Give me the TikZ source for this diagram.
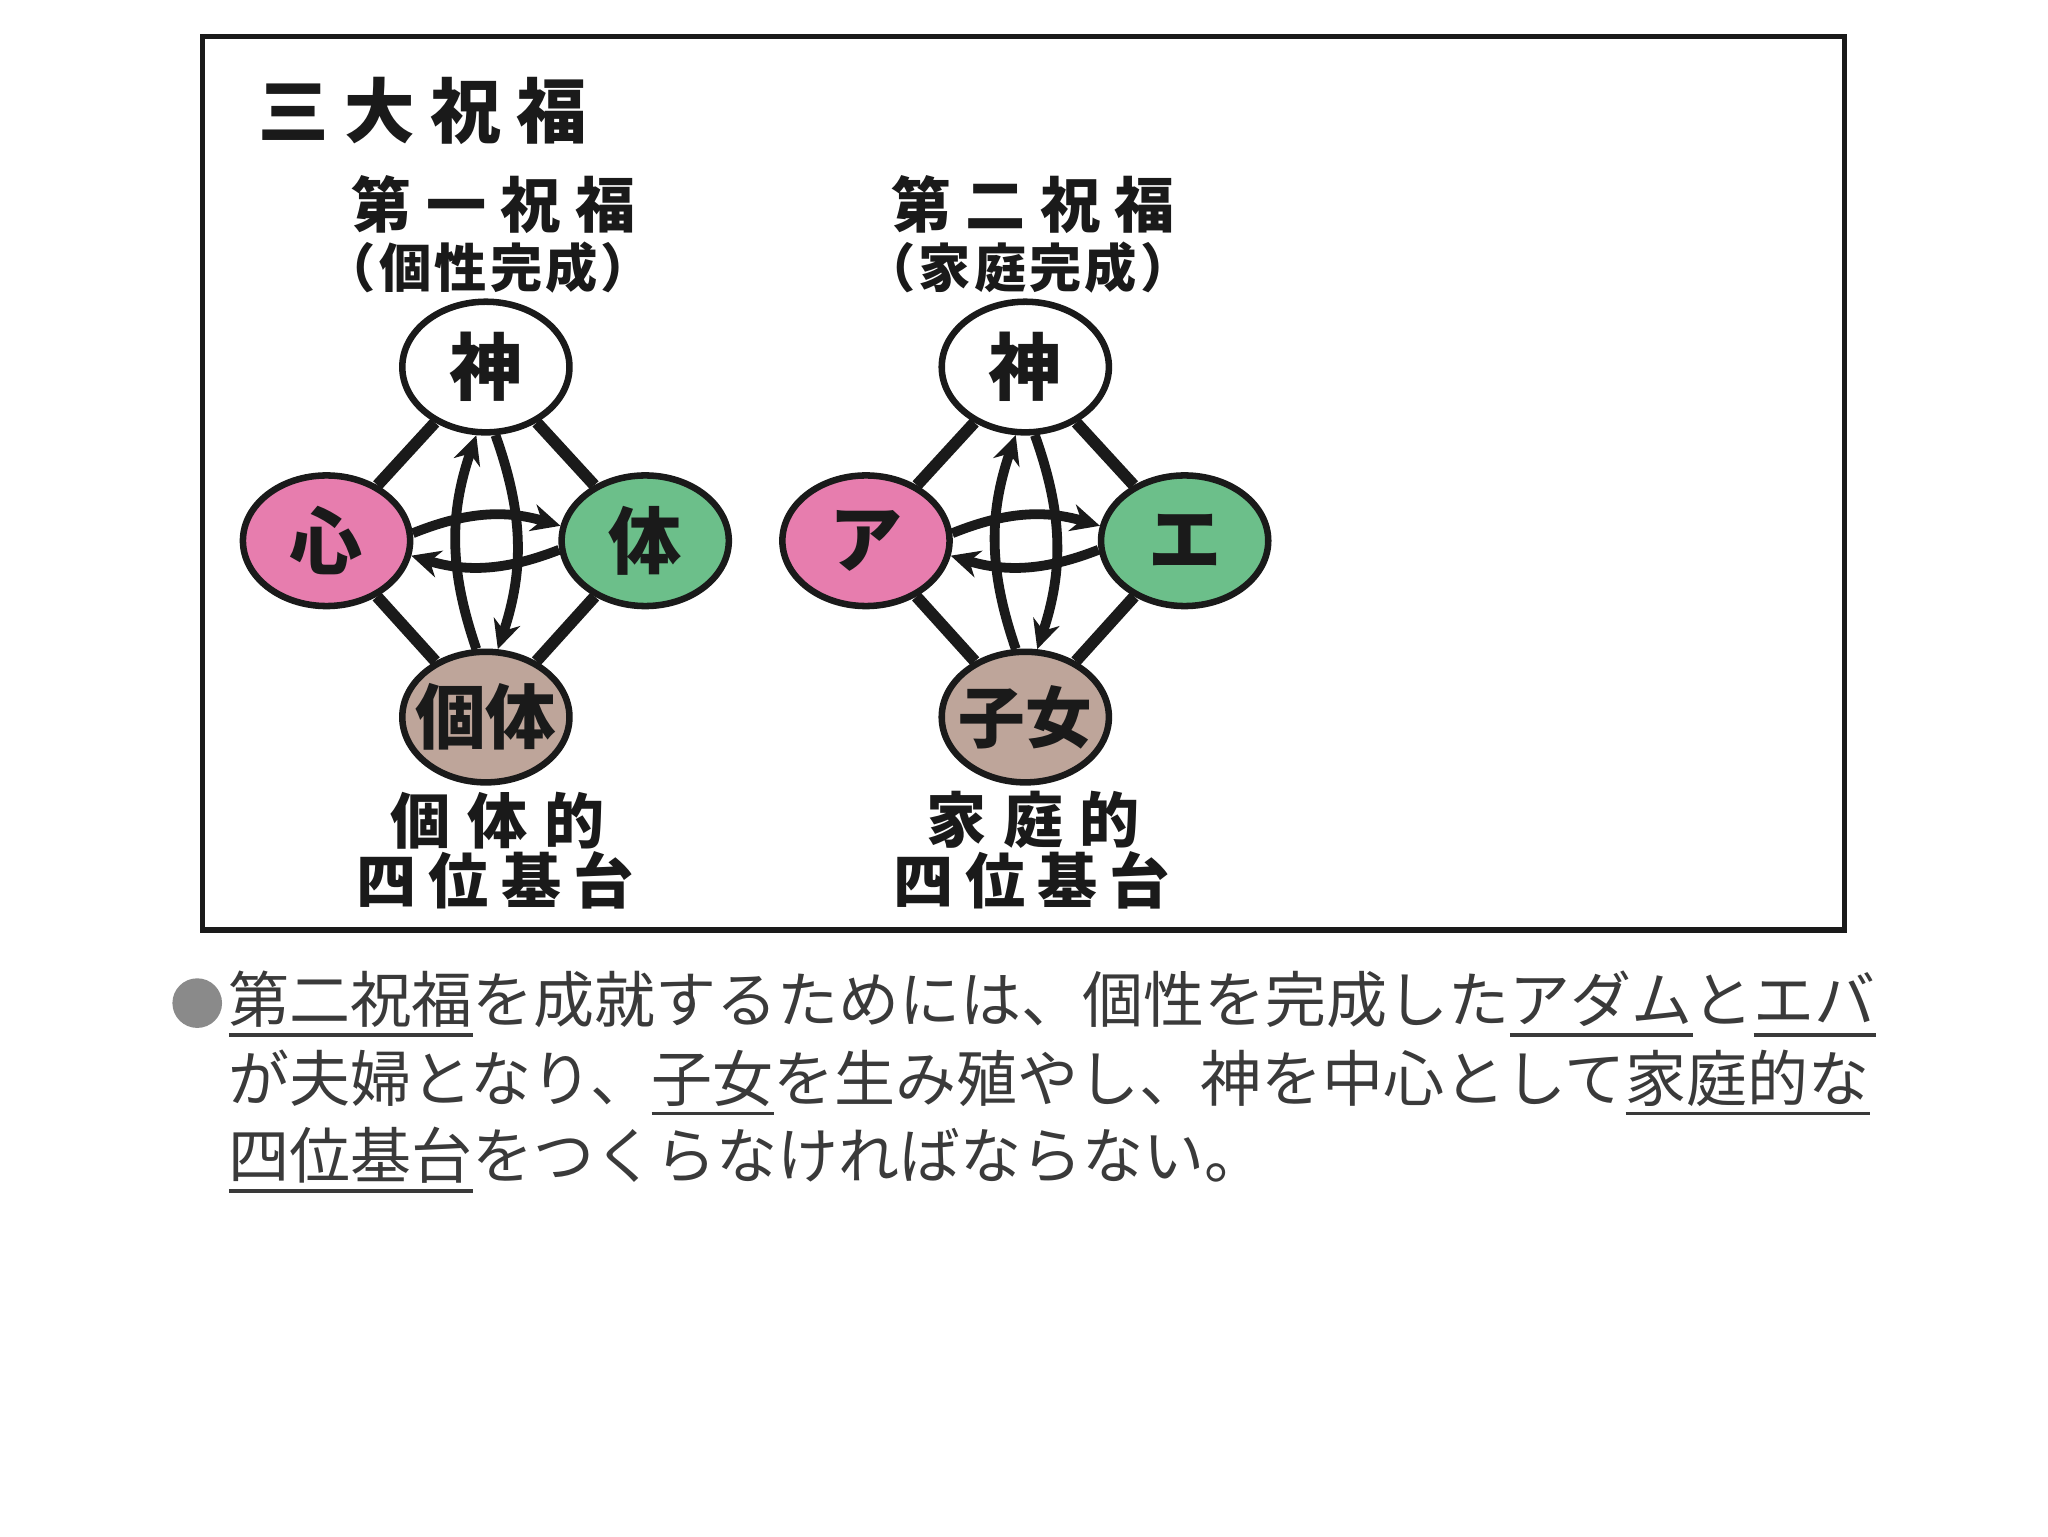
\documentclass[tikz,border=0pt]{standalone}
\usepackage{fontspec}
\usetikzlibrary{shapes.geometric,arrows.meta,backgrounds}
\newfontfamily\jp{Noto Sans CJK JP}
\definecolor{pinkc}{HTML}{E77DAE}
\definecolor{greenc}{HTML}{6CBF8A}
\definecolor{brownc}{HTML}{BEA59A}
\definecolor{inkc}{HTML}{1A1A1A}
\definecolor{bodyc}{HTML}{3A3A3A}
\definecolor{bulletc}{HTML}{8A8A8A}
\newcommand\uln[1]{\setbox0\hbox{#1}\rlap{\color{bodyc}\rule[-11pt]{\wd0}{3pt}}\box0}
\newcommand\jb[2]{\jp\bfseries\fontsize{#1}{#1}\selectfont\addfontfeature{LetterSpace=#2}}
\newcommand\zw[1]{\makebox[0pt]{#1}}
\tikzset{
  stage/.style={ellipse, draw=inkc, line width=5pt, minimum width=128pt,
    minimum height=100pt, inner sep=0pt, text=inkc,
    font=\jp\bfseries\fontsize{56}{56}\selectfont},
  link/.style={draw=inkc, line width=9pt},
  flow/.style={draw=inkc, line width=7.5pt, -{Stealth[length=22pt,width=21pt]}, bend left=19},
  head/.style={inner sep=0pt, text=inkc},
  body/.style={inner sep=0pt, anchor=base west, text=bodyc,
    font=\jp\fontsize{46.7}{50}\selectfont}
}
\begin{document}
\begin{tikzpicture}[x=1pt,y=1pt]
\useasboundingbox (0,0) rectangle (1568,-1176);
\draw[inkc, line width=4pt] (155,-28) rectangle (1412,-712);
\node[head, anchor=west, font=\jb{54}{22}] (title) at (198,-85) {三大祝福};
% first blessing
\node[head, font=\jb{46}{24}] (h1) at (378,-157) {第一祝福};
\node[head, font=\jb{40}{6}] (s1) at (374,-205) {（個性完成）};
\node[stage, fill=white] (g1) at (372,-281) {\zw{神}};
\node[stage, fill=pinkc] (m1) at (250,-414) {\zw{心}};
\node[stage, fill=greenc] (b1) at (494,-414) {\zw{体}};
\node[stage, fill=brownc, font=\jb{54}{0}] (c1) at (372,-549) {\zw{個体}};
\node[head, font=\jb{46}{28}] (f1) at (381,-628) {個体的};
\node[head, font=\jb{46}{20}] (q1) at (379,-674) {四位基台};
% second blessing
\node[head, font=\jb{46}{24}] (h2) at (791,-157) {第二祝福};
\node[head, font=\jb{40}{6}] (s2) at (787,-205) {（家庭完成）};
\node[stage, fill=white] (g2) at (785,-281) {\zw{神}};
\node[stage, fill=pinkc] (a2) at (663,-414) {\zw{ア}};
\node[stage, fill=greenc] (e2) at (907,-414) {\zw{エ}};
\node[stage, fill=brownc, font=\jb{51}{0}] (k2) at (785,-549) {\zw{子女}};
\node[head, font=\jb{46}{28}] (f2) at (791,-628) {家庭的};
\node[head, font=\jb{46}{20}] (q2) at (790,-674) {四位基台};
\begin{scope}[on background layer]
\draw[link] (g1) -- (m1); \draw[link] (g1) -- (b1);
\draw[link] (m1) -- (c1); \draw[link] (b1) -- (c1);
\draw[link] (g2) -- (a2); \draw[link] (g2) -- (e2);
\draw[link] (a2) -- (k2); \draw[link] (e2) -- (k2);
\end{scope}
\draw[flow] (c1.98) to (g1.262);
\draw[flow] (g1.278) to (c1.80);
\draw[flow] (m1.5) to (b1.170);
\draw[flow] (b1.186) to (m1.350);
\draw[flow] (k2.98) to (g2.262);
\draw[flow] (g2.278) to (k2.80);
\draw[flow] (a2.5) to (e2.170);
\draw[flow] (e2.186) to (a2.350);
% text
\node[circle, fill=bulletc, minimum size=38pt, inner sep=0pt] (dot) at (151,-768) {};
\node[body] (l1) at (175,-783) {\uln{第二祝福}を成就するためには、個性を完成した\uln{アダム}と\uln{エバ}};
\node[body] (l2) at (175,-843) {が夫婦となり、\uln{子女}を生み殖やし、神を中心として\uln{家庭的な}};
\node[body] (l3) at (175,-902) {\uln{四位基台}をつくらなければならない。};
\end{tikzpicture}
\end{document}
